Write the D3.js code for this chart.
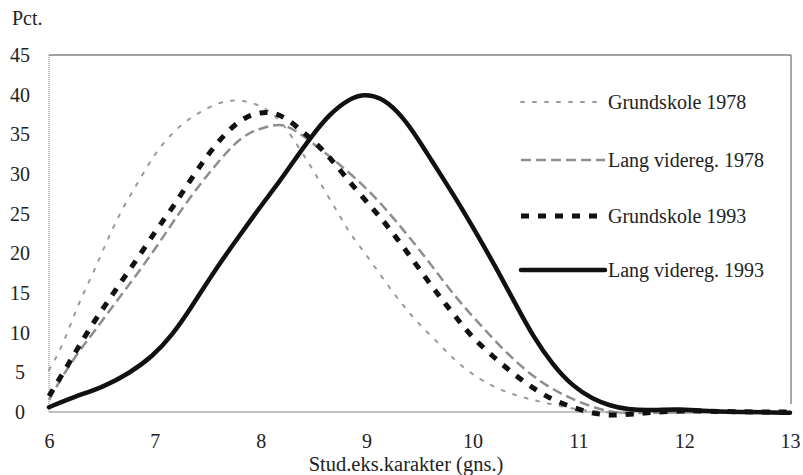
<!DOCTYPE html>
<html><head><meta charset="utf-8">
<script src="https://cdn.jsdelivr.net/npm/d3@7/dist/d3.min.js"></script>
<style>body{margin:0;background:#fff}svg{display:block}</style>
</head><body><svg id="c" width="803" height="475"></svg>
<script>
const xTicks = [6,7,8,9,10,11,12,13];
const yTicks = [0,5,10,15,20,25,30,35,40,45];
const seriesNames = ["Grundskole 1978","Lang videreg. 1978","Grundskole 1993","Lang videreg. 1993"];

const grund78X = [6.0,6.1,6.2,6.29,6.4,6.5,6.6,6.7,6.83,6.93,7.02,7.14,7.28,7.44,7.6,7.76,7.92,8.06,8.18,8.29,8.4,8.51,8.62,8.75,8.84,9.0,9.17,9.33,9.47,9.65,9.81,9.98,10.19,10.4,10.61,10.8,11.0,11.2,11.5,12,12.5,13];
const grund78Y = [5.3,7.6,10.9,14,17,20.1,23.1,25.8,28.7,31.0,32.9,34.8,36.6,37.9,39,39.4,39,38.2,36.8,34.8,32.5,30.2,27.5,24.7,22.5,19.8,16.5,13.7,11.4,9.1,6.8,4.9,3.2,2.1,1.4,0.8,0.3,0,-0.2,0,0,0];

const lang78X = [6.0,6.12,6.29,6.42,6.64,6.98,7.27,7.55,7.76,7.9,8.06,8.18,8.3,8.5,8.72,9.03,9.29,9.57,9.83,10.1,10.38,10.7,11.08,11.3,11.5,12,13];
const lang78Y = [1.5,4.4,7.8,10,14,20,26.0,30.8,34.0,35.3,36,36.3,35.8,33.8,31.5,27.9,23.9,19.3,14.6,10.6,6.6,3.1,0.8,0,-0.2,0,0];

const grund93X = [6.0,6.15,6.27,6.42,6.56,6.69,6.83,7.02,7.17,7.3,7.44,7.58,7.71,7.85,8.02,8.18,8.34,8.53,8.67,8.81,8.98,9.14,9.28,9.43,9.57,9.71,9.83,9.99,10.21,10.38,10.57,10.76,11.01,11.22,11.41,11.63,12,12.5,13];
const grund93Y = [2.0,5.3,8,11.3,14,16.6,19.2,23.1,25.8,28.5,31.3,33.8,35.7,37.2,37.9,37.6,36,33.8,31.8,29.5,26.8,24.4,22,19.3,16.7,14.2,12.2,9.5,6.8,4.9,3.0,1.5,0.25,-0.4,-0.4,-0.1,0.2,0,0];

const lang93X = [6.0,6.23,6.51,6.76,6.98,7.17,7.33,7.52,7.68,7.83,8.02,8.18,8.3,8.46,8.65,8.84,8.97,9.13,9.29,9.44,9.6,9.85,10.07,10.26,10.42,10.57,10.76,10.95,11.14,11.3,11.46,11.7,11.95,12.2,12.6,13];
const lang93Y = [0.6,1.9,3.1,4.9,7.0,9.8,12.9,16.9,20.0,22.8,26.3,29.1,31.4,34.4,37.6,39.5,40.1,39.7,38.0,35.4,32,26.8,21.8,17.3,13.3,9.6,5.9,3.2,1.6,0.8,0.3,0.2,0.4,0.1,0,-0.1];

const styles = [
  {stroke:"#9a9a9a", width:2, dash:"3,9", cap:"round"},
  {stroke:"#8e8e8e", width:2.5, dash:"10,5", cap:"butt"},
  {stroke:"#111", width:5, dash:"8,9", cap:"butt"},
  {stroke:"#111", width:4.5, dash:null, cap:"round"}
];

const series = [
  {name:seriesNames[0], x:grund78X, y:grund78Y},
  {name:seriesNames[1], x:lang78X, y:lang78Y},
  {name:seriesNames[2], x:grund93X, y:grund93Y},
  {name:seriesNames[3], x:lang93X, y:lang93Y}
];

const FONT = "'Liberation Serif', 'Times New Roman', 'DejaVu Serif', serif";
const svg = d3.select("#c");
const x = d3.scaleLinear().domain([6,13]).range([49,790]);
const y = d3.scaleLinear().domain([0,45]).range([412,55]);

// frame
svg.append("line").attr("x1",49).attr("x2",791).attr("y1",y(45)).attr("y2",y(45)).attr("stroke","#444").attr("stroke-width",1);
svg.append("line").attr("x1",791).attr("x2",791).attr("y1",y(45)).attr("y2",y(1)).attr("stroke","#555").attr("stroke-width",1);
svg.append("line").attr("x1",49).attr("x2",49).attr("y1",y(45)).attr("y2",y(0)).attr("stroke","#777").attr("stroke-width",1).attr("stroke-dasharray","1,1");
svg.append("line").attr("x1",49).attr("x2",791).attr("y1",y(0)).attr("y2",y(0)).attr("stroke","#888").attr("stroke-width",1.2);

// axes (labels only)
const gx = svg.append("g").attr("transform",`translate(0,${y(0)})`)
  .call(d3.axisBottom(x).tickValues(xTicks).tickSize(0).tickPadding(22).tickFormat(d3.format("d")));
gx.attr("font-family",null).attr("font-size",null);
gx.select(".domain").remove();
gx.selectAll("text").style("font-family",FONT).style("font-size","20px").attr("fill","#222");

const gy = svg.append("g").attr("transform","translate(20,0)")
  .call(d3.axisLeft(y).tickValues(yTicks).tickSize(0).tickPadding(0).tickFormat(d3.format("d")));
gy.attr("font-family",null).attr("font-size",null);
gy.select(".domain").remove();
gy.selectAll("text").style("font-family",FONT).style("font-size","20px").attr("text-anchor","middle").attr("x",0).attr("fill","#222");

svg.append("text").attr("x",12).attr("y",25).style("font-family",FONT).style("font-size","20px").attr("fill","#222").text("Pct.");
svg.append("text").attr("x",406).attr("y",471).attr("text-anchor","middle").style("font-family",FONT).style("font-size","20.5px").attr("fill","#222").text("Stud.eks.karakter (gns.)");

const line = d3.line().x(d=>x(d[0])).y(d=>y(d[1])).curve(d3.curveBasis);

series.forEach((s,i)=>{
  const pts = s.x.map((v,j)=>[v,s.y[j]]);
  const st = styles[i];
  svg.append("path").datum(pts).attr("d",line).attr("fill","none")
    .attr("stroke",st.stroke).attr("stroke-width",st.width)
    .attr("stroke-dasharray",st.dash).attr("stroke-linecap",st.cap).attr("stroke-linejoin","round");
});

// legend
const legY = [102,160,216,270];
series.forEach((s,i)=>{
  const st = styles[i];
  svg.append("line").attr("x1",521).attr("x2",605).attr("y1",legY[i]).attr("y2",legY[i])
    .attr("stroke",st.stroke).attr("stroke-width",st.width).attr("stroke-dasharray",st.dash).attr("stroke-linecap",st.cap);
  svg.append("text").attr("x",608).attr("y",legY[i]+7).style("font-family",FONT).style("font-size","20px").attr("fill","#222").text(s.name);
});
</script></body></html>
